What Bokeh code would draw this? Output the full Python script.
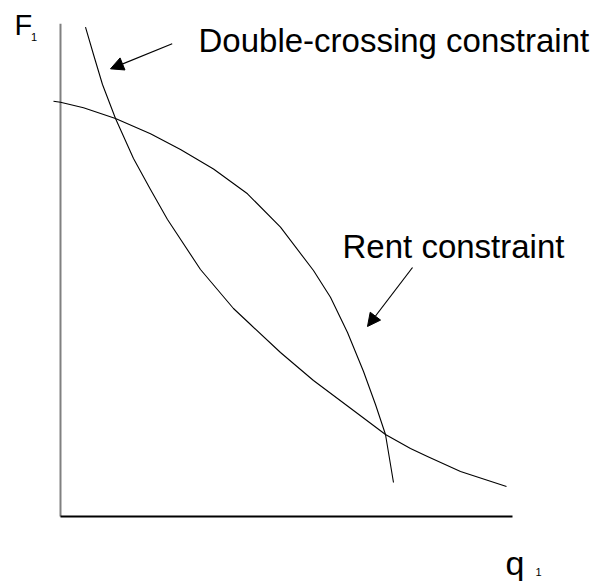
from bokeh.plotting import figure
from bokeh.models import Range1d, Arrow, NormalHead, ColumnDataSource
from bokeh.core.properties import value
from bokeh.embed import file_html
from bokeh.resources import INLINE

# Double-crossing constraint (convex, steep): q1 vs F1
dc_q = [0.553, 0.730, 0.929, 1.217, 1.615, 1.991, 2.367, 3.097, 3.827, 4.204,
        4.867, 5.310, 5.597, 6.350, 7.190, 7.743, 8.119, 8.850, 9.867]
dc_f = [9.945, 9.390, 8.780, 8.089, 7.276, 6.646, 6.037, 5.020, 4.228, 3.902,
        3.333, 2.988, 2.764, 2.246, 1.667, 1.382, 1.220, 0.915, 0.610]

# Rent constraint (concave)
rc_q = [-0.155, 0.0, 0.509, 1.217, 1.991, 2.655, 3.385, 4.137, 4.867, 5.597,
        5.973, 6.350, 6.704, 6.969, 7.190, 7.367]
rc_f = [8.441, 8.421, 8.307, 8.089, 7.778, 7.459, 7.063, 6.559, 5.880, 5.000,
        4.457, 3.740, 2.947, 2.276, 1.667, 0.691]

# Axis extents
axis_q_max = 10.0
axis_f_max = 10.014

# Annotation texts
label_texts = ["Double-crossing constraint", "Rent constraint"]
label_q = [3.053, 6.239]
label_f = [9.675, 5.488]

# Arrows (tail -> tip)
arrow_tail_q = [2.471, 7.788]
arrow_tail_f = [9.608, 5.061]
arrow_tip_q = [1.106, 6.792]
arrow_tip_f = [9.099, 3.862]

FONT = "Liberation Sans"

p = figure(width=591, height=581, output_backend="svg", toolbar_location=None,
           x_range=Range1d(-1.3274, 11.7478), y_range=Range1d(-1.3211, 10.4878),
           min_border=0, min_border_left=0, min_border_right=0,
           min_border_top=0, min_border_bottom=0)
p.axis.visible = False
p.grid.visible = False
p.outline_line_color = None
p.background_fill_color = "white"
p.border_fill_color = "white"

# axes drawn as lines
p.line([0, 0], [0, axis_f_max], line_color="#808080", line_width=2)
p.line([0, axis_q_max], [0, 0], line_color="black", line_width=2)

# curves
p.line(dc_q, dc_f, line_color="black", line_width=1.1, line_join="round")
p.line(rc_q, rc_f, line_color="black", line_width=1.1, line_join="round")

# arrows
for tq, tf, hq, hf in zip(arrow_tail_q, arrow_tail_f, arrow_tip_q, arrow_tip_f):
    p.add_layout(Arrow(end=NormalHead(size=13, fill_color="black", line_color="black"),
                       x_start=tq, y_start=tf, x_end=hq, y_end=hf,
                       line_color="black", line_width=1.2))

# annotation labels
src = ColumnDataSource(dict(x=label_q, y=label_f, t=label_texts))
p.text(x="x", y="y", text="t", source=src, text_font=value(FONT),
       text_font_size="33px", text_color="black", text_baseline="alphabetic",
       text_align="left")

# axis titles with subscripts
p.text(x=[-1.018], y=[9.980], text=["F"], text_font=value(FONT),
       text_font_size="29px", text_baseline="alphabetic", text_align="left")
p.text(x=[-0.653], y=[9.756], text=["1"], text_font=value(FONT),
       text_font_size="11px", text_baseline="alphabetic", text_align="left")
p.text(x=[9.845], y=[-0.935], text=["q"], text_font=value(FONT),
       text_font_size="34px", text_baseline="alphabetic", text_align="left")
p.text(x=[10.509], y=[-1.138], text=["1"], text_font=value(FONT),
       text_font_size="11px", text_baseline="alphabetic", text_align="left")

open("out.html", "w").write(file_html(p, INLINE))
